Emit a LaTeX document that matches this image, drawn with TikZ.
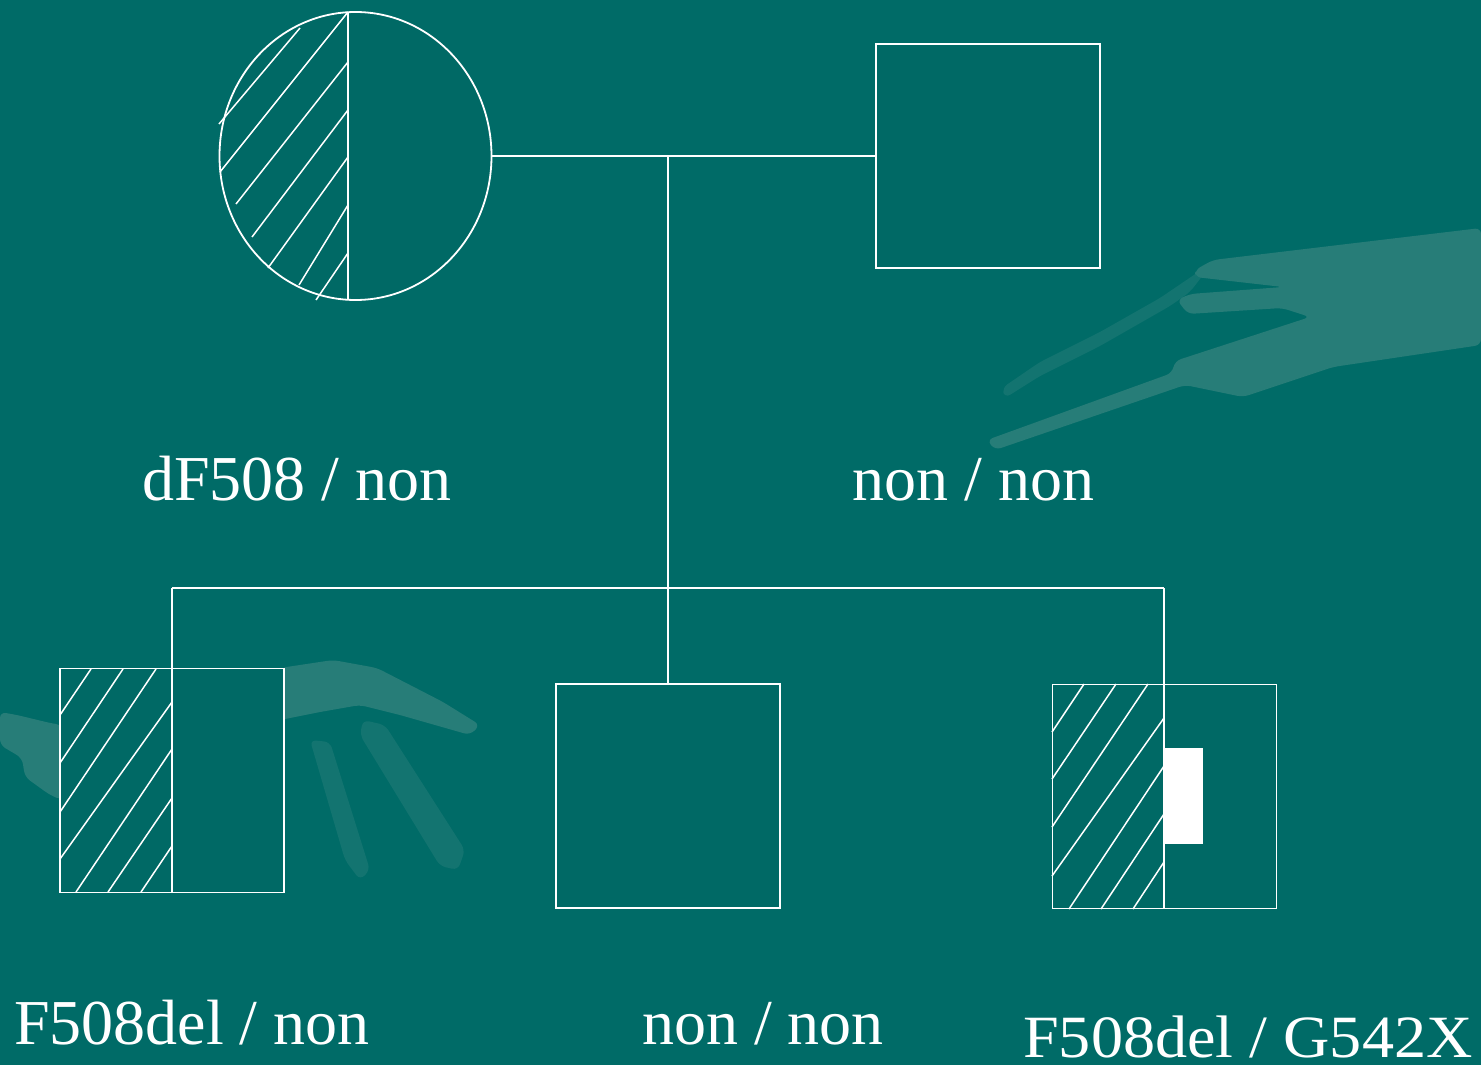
\documentclass[tikz,border=0pt]{standalone}
\usepackage{fontspec}
\setmainfont{Liberation Serif}
\usetikzlibrary{shapes.geometric}
\definecolor{bgteal}{HTML}{006B67}
\definecolor{boxteal}{HTML}{006965}
\definecolor{handteal}{HTML}{277D78}
\definecolor{handsoft}{HTML}{137470}
\begin{document}
\begin{tikzpicture}[x=1pt,y=-1pt,
  sym/.style={draw=white, fill=boxteal, line width=1.8pt, inner sep=0pt, outer sep=0pt},
  sq/.style={sym, rectangle, minimum width=224pt, minimum height=224pt},
  lbl/.style={text=white, anchor=base west, inner sep=0pt, font=\fontsize{64}{70}\selectfont},
  hatchline/.style={draw=white, line width=1.5pt},
  link/.style={draw=white, line width=1.8pt},
  hand/.style={fill=handteal, draw=none, rounded corners=6pt},
  handlite/.style={fill=handsoft, draw=none, rounded corners=6pt}]
% background
\fill[bgteal] (0,0) rectangle (1481,1065);
\useasboundingbox (0,0) rectangle (1481,1065);
% faint hands in background
\path[handlite] (1002,388) -- (1040,362) -- (1100,332) -- (1160,298) -- (1213,262) -- (1190,292) -- (1170,306) -- (1100,346) -- (1040,376) -- (1005,398) -- cycle;
\path[hand] (1213,260) -- (1481,228) -- (1481,345) -- (1333,367) -- (1243,397) -- (1185,385) -- (995,450) -- (987,440) -- (1172,373) -- (1175,361) -- (1310,317) -- (1282,308) -- (1188,314) -- (1177,300) -- (1190,294) -- (1283,287) -- (1195,277) -- (1195,270) -- cycle;
\path[hand] (0,712) -- (17,715) -- (50,723) -- (62,725) -- (62,800) -- (50,795) -- (25,777) -- (22,758) -- (0,745) -- cycle;
\path[hand] (280,668) -- (333,660) -- (377,668) -- (443,702) -- (480,725) -- (470,735) -- (400,715) -- (360,705) -- (320,712) -- (280,720) -- cycle;
\path[handlite] (363,720) -- (385,725) -- (465,850) -- (458,870) -- (440,866) -- (360,735) -- cycle;
\path[handlite] (310,740) -- (330,742) -- (370,870) -- (360,880) -- (345,860) -- cycle;

% symbols
\node[sym, ellipse, minimum width=272pt, minimum height=288pt] (mother) at (355.5,156) {};
\node[sq] (father) at (988,156) {};
\node[sq] (c1) at (172,780.5) {};
\node[sq] (c2) at (668,796) {};
\node[sq] (c3) at (1164.5,796.5) {};

% mother hatching and divider
\draw[hatchline] (300,28) -- (219,124);
\draw[hatchline] (348,12) -- (220,172);
\draw[hatchline] (348,62) -- (236,204);
\draw[hatchline] (348,110) -- (252,237);
\draw[hatchline] (348,157) -- (268,268);
\draw[hatchline] (348,205) -- (299,285);
\draw[hatchline] (348,253) -- (316,300);
\draw[link] (348,12) -- (348,300);

% child 1 hatching
\draw[hatchline] (91,669) -- (60,715);
\draw[hatchline] (123,669) -- (60,763);
\draw[hatchline] (156,669) -- (60,812);
\draw[hatchline] (172,702) -- (60,859);
\draw[hatchline] (172,749) -- (76,892);
\draw[hatchline] (172,798) -- (108,892);
\draw[hatchline] (172,846) -- (141,892);

% child 3 hatching and mark
\draw[hatchline] (1084,684) -- (1052,732);
\draw[hatchline] (1116,684) -- (1052,779);
\draw[hatchline] (1148,684) -- (1052,827);
\draw[hatchline] (1164,718) -- (1052,876);
\draw[hatchline] (1164,766) -- (1069,909);
\draw[hatchline] (1164,814) -- (1101,909);
\draw[hatchline] (1164,862) -- (1133,909);
\fill[white] (1164,748) rectangle (1203,844);

% connectors
\coordinate (mate) at (668,156);
\coordinate (sib) at (668,588);
\coordinate (sibL) at (172,588);
\coordinate (sibR) at (1164,588);
\draw[link] (mother.east) -- (father.west);
\draw[link] (mate) -- (sib);
\draw[link] (sibL) -- (sibR);
\draw[link] (sibL) -- (c1.south);
\draw[link] (sib) -- (c2.north);
\draw[link] (sibR) -- (1164,909);

% labels
\node[lbl] (lm) at (142,500) {dF508 / non};
\node[lbl] (lf) at (852,500) {non / non};
\node[lbl] (l1) at (14,1044) {F508del / non};
\node[lbl] (l2) at (642,1044) {non / non};
\node[lbl, font=\fontsize{60}{66}\selectfont] (l3) at (1023,1057) {\scalebox{1.07}[1]{F508del / G542X}};
\end{tikzpicture}
\end{document}
